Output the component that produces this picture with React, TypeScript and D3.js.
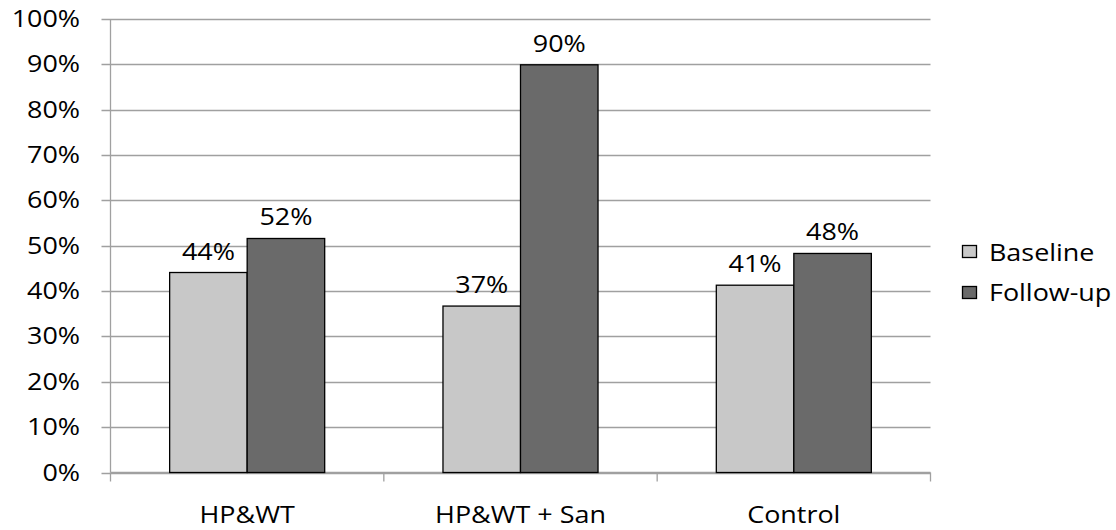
import React from "react";
import * as d3 from "d3";

// Chart data
const categories = ["HP&WT", "HP&WT + San", "Control"];
const seriesNames = ["Baseline", "Follow-up"];
const baselineValues = [0.441, 0.367, 0.413];
const followUpValues = [0.516, 0.899, 0.483];
const yTickValues = [0, 0.1, 0.2, 0.3, 0.4, 0.5, 0.6, 0.7, 0.8, 0.9, 1.0];

const seriesColors = ["#c8c8c8", "#6a6a6a"];
const WIDTH = 1116;
const HEIGHT = 530;
const FONT = "'Open Sans', 'DejaVu Sans', sans-serif";
const FONT_SIZE = 23;
const STRETCH = 1.17;

const plot = { left: 110.5, right: 930.5, top: 19, bottom: 472.5 };

function Label({ x, y, anchor, children }: { x: number; y: number; anchor: string; children: React.ReactNode }) {
  return (
    <text
      transform={`translate(${x},${y}) scale(${STRETCH},1)`}
      textAnchor={anchor as any}
      fontFamily={FONT}
      fontSize={FONT_SIZE}
      fill="#000"
    >
      {children}
    </text>
  );
}

export default function App() {
  const y = d3.scaleLinear().domain([0, 1]).range([plot.bottom, plot.top]);
  const x0 = d3.scaleBand<string>().domain(categories).range([plot.left, plot.right]).paddingInner(0).paddingOuter(0);
  const x1 = d3
    .scaleBand<string>()
    .domain(seriesNames)
    .range([0, x0.bandwidth()])
    .paddingInner(0)
    .paddingOuter(0.763);
  const pct = d3.format(".0%");
  const seriesValues = [baselineValues, followUpValues];
  const categoryEdges = [...categories.map((c) => x0(c)!), plot.right];

  return (
    <svg
      width={WIDTH}
      height={HEIGHT}
      style={{ position: "absolute", left: 0, top: 0, background: "#fff" }}
    >
      {/* gridlines and y ticks */}
      {yTickValues.map((t) => (
        <g key={t}>
          <line x1={plot.left - 9} x2={plot.right} y1={Math.round(y(t)) + 0.5} y2={Math.round(y(t)) + 0.5} stroke="#a0a0a0" strokeWidth={1.3} />
          <Label x={80} y={y(t) + 8} anchor="end">
            {pct(t)}
          </Label>
        </g>
      ))}
      {/* y axis */}
      <line x1={plot.left} x2={plot.left} y1={plot.top} y2={plot.bottom} stroke="#a0a0a0" strokeWidth={1.3} />
      {/* x axis with category ticks */}
      <line x1={plot.left} x2={plot.right} y1={plot.bottom} y2={plot.bottom} stroke="#a0a0a0" strokeWidth={1.3} />
      {categoryEdges.map((e, i) => (
        <line key={i} x1={e} x2={e} y1={plot.bottom} y2={plot.bottom + 9} stroke="#a0a0a0" strokeWidth={1.3} />
      ))}
      {/* bars */}
      {categories.map((c, ci) =>
        seriesNames.map((s, si) => {
          const v = seriesValues[si][ci];
          const bx = x0(c)! + x1(s)!;
          const by = y(v);
          return (
            <g key={c + s}>
              <rect
                x={bx}
                y={by}
                width={x1.bandwidth()}
                height={y(0) - by}
                fill={seriesColors[si]}
                stroke="#000"
                strokeWidth={1.3}
              />
              <Label x={bx + x1.bandwidth() / 2} y={by - 13} anchor="middle">
                {pct(v)}
              </Label>
            </g>
          );
        })
      )}
      {/* category labels */}
      {categories.map((c) => (
        <Label key={c} x={x0(c)! + x0.bandwidth() / 2} y={523} anchor="middle">
          {c}
        </Label>
      ))}
      {/* legend */}
      {seriesNames.map((s, i) => (
        <g key={s}>
          <rect x={962.5} y={245.5 + i * 41} width={14} height={12} fill={seriesColors[i]} stroke="#000" strokeWidth={1.3} />
          <Label x={989} y={261 + i * 40} anchor="start">
            {s}
          </Label>
        </g>
      ))}
    </svg>
  );
}
